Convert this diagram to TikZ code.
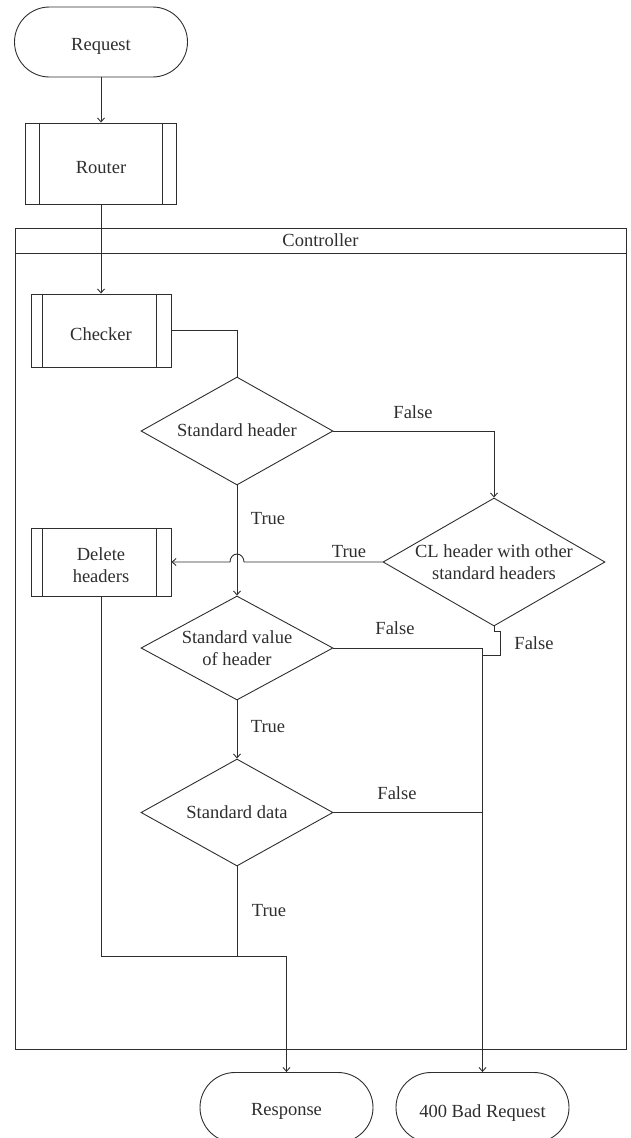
\documentclass[tikz,border=0pt]{standalone}
\usepackage{fontspec}
\setmainfont{Liberation Serif}
\usetikzlibrary{shapes.geometric,arrows.meta}
\definecolor{ink}{HTML}{2E2E2E}
\begin{document}
\begin{tikzpicture}[x=1pt,y=-1pt, color=ink, line width=0.9pt,
  every node/.style={font=\fontsize{18.5}{21.5}\selectfont},
  every label/.style={align=center, inner sep=0pt},
  term/.style={draw, rounded corners=35pt, minimum width=173pt, minimum height=70pt, inner sep=0pt},
  proc/.style={draw, inner sep=0pt},
  decision/.style={draw, diamond, inner sep=0pt},
  lbl/.style={inner sep=1pt},
  arr/.style={-{Straight Barb[length=4pt,width=7pt]}}
]
\useasboundingbox (0,0) rectangle (631,1138);

% outer controller frame with title band
\node[draw, minimum width=611pt, minimum height=821pt, anchor=north west, inner sep=0pt] (ctrl) at (15,228) {};
\draw ([yshift=-25pt]ctrl.north west) -- ([yshift=-25pt]ctrl.north east);
\node (ctrltitle) at (320.5,240.5) {Controller};

% terminals
\node[term, label={[yshift=-4.5pt]center:Request}] (req) at (101,42) {};
\node[term, label={[yshift=-3.5pt]center:Response}] (resp) at (286.5,1107.5) {};
\node[term, label={[yshift=-6pt]center:400 Bad Request}] (bad) at (482.5,1107.5) {};

% predefined processes (double side bars)
\node[proc, minimum width=151pt, minimum height=81pt,
  label={[yshift=-4pt]center:Router}] (router) at (101,163.5) {};
\draw ([xshift=14pt]router.north west) -- ([xshift=14pt]router.south west);
\draw ([xshift=-15pt]router.north east) -- ([xshift=-15pt]router.south east);

\node[proc, minimum width=140pt, minimum height=73pt,
  label={[yshift=-3.5pt]center:Checker}] (checker) at (101,330.5) {};
\draw ([xshift=12pt]checker.north west) -- ([xshift=12pt]checker.south west);
\draw ([xshift=-15pt]checker.north east) -- ([xshift=-15pt]checker.south east);

\node[proc, minimum width=140pt, minimum height=68pt,
  label={[yshift=-3pt]center:{Delete\\headers}}] (del) at (101,562) {};
\draw ([xshift=12pt]del.north west) -- ([xshift=12pt]del.south west);
\draw ([xshift=-15pt]del.north east) -- ([xshift=-15pt]del.south east);

% decisions
\node[decision, minimum width=192pt, minimum height=108pt,
  label={[yshift=1pt]center:Standard header}] (d1) at (237,431) {};
\node[decision, minimum width=222pt, minimum height=128pt,
  label={center:{CL header with other\\standard headers}}] (d2) at (494,562) {};
\node[decision, minimum width=192pt, minimum height=104pt,
  label={center:{Standard value\\of header}}] (d3) at (237,648) {};
\node[decision, minimum width=192pt, minimum height=107pt,
  label={center:Standard data}] (d4) at (237,812.5) {};

% connectors
\coordinate (kink) at (500,655);
\coordinate (merge) at (286.5,956);

\draw[arr] (req.south) -- (router.north);
\draw[arr] (router.south) -- (checker.north);
\draw (checker.east) -| (d1.north);
\draw[arr] (d1.east) -| (d2.north);
\draw[arr] (d1.south) -- (d3.north);
\draw[arr] (d2.west) -- (244,562)
  arc[start angle=0, end angle=180, x radius=7pt, y radius=8pt] -- (del.east);
\draw[arr] (d3.south) -- (d4.north);
\draw[arr] (d3.east) -| (bad.north);
\draw (d4.east) -- (d4.east -| bad.north);
\draw (d2.south) -- ++(0,4.7) -| (kink) -- (kink -| bad.north);
\draw[arr] (del.south) |- (merge) -- (resp.north);
\draw (d4.south) -- (d4.south |- merge);

% branch labels
\node[lbl] (f1) at (413,412) {False};
\node[lbl] (t1) at (268,519) {True};
\node[lbl] (t2) at (349,552) {True};
\node[lbl] (f2) at (395,628) {False};
\node[lbl] (f3) at (534,643) {False};
\node[lbl] (t3) at (268,727) {True};
\node[lbl] (f4) at (397,793) {False};
\node[lbl] (t4) at (269,911) {True};
\end{tikzpicture}
\end{document}
